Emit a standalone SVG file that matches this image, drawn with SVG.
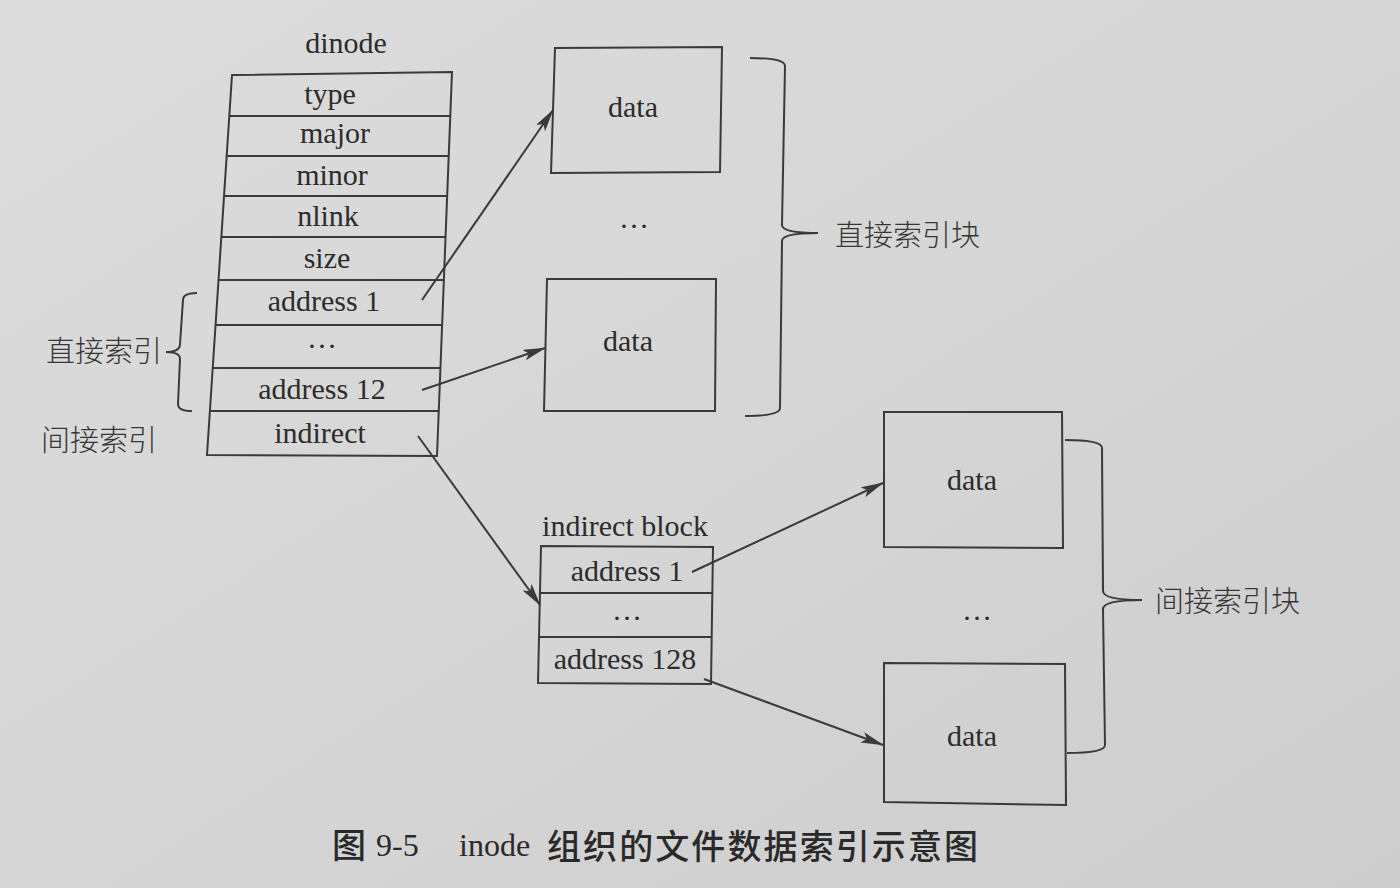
<svg xmlns="http://www.w3.org/2000/svg" width="1400" height="888" viewBox="0 0 1400 888">
  <defs>
    <linearGradient id="bg" x1="0" y1="0" x2="1" y2="1">
      <stop offset="0" stop-color="#dcdcdc"/>
      <stop offset="0.5" stop-color="#d6d6d6"/>
      <stop offset="1" stop-color="#cdcdcd"/>
    </linearGradient>
    <marker id="arr" markerUnits="userSpaceOnUse" markerWidth="24" markerHeight="12" refX="22" refY="5.5" orient="auto">
      <path d="M0,0 L23,5.5 L0,11 L5,5.5 z" fill="#3a3a3a"/>
    </marker>
  </defs>
  <style>
    .box { fill: none; stroke: #3a3a3a; stroke-width: 2; }
    .ln { stroke: #3a3a3a; stroke-width: 2; fill: none; }
    .t { font-family: "Liberation Serif", "Times New Roman", serif; font-size: 30px; fill: #2c2c2c; text-anchor: middle; }
    .cn { font-family: "Noto Sans CJK SC", sans-serif; font-size: 29px; fill: #363636; font-weight: 300; }
    .cap { font-family: "Liberation Serif", serif; font-size: 32px; fill: #2a2a2a; }
    .capcn { font-family: "Noto Sans CJK SC", sans-serif; font-size: 34px; fill: #2a2a2a; font-weight: 500; }
    .arrow { stroke: #3a3a3a; stroke-width: 2; fill: none; marker-end: url(#arr); }
  </style>
  <rect x="0" y="0" width="1400" height="888" fill="url(#bg)"/>

  <g id="dinode">
    <text class="t" x="346" y="53">dinode</text>
    <polygon class="box" points="232,75 452,72 437,456 207,455"/>
    <line class="ln" x1="229.3" y1="116" x2="450.3" y2="116"/>
    <line class="ln" x1="226.7" y1="156" x2="448.7" y2="156"/>
    <line class="ln" x1="224" y1="196" x2="447.2" y2="196"/>
    <line class="ln" x1="221.3" y1="237" x2="445.6" y2="237"/>
    <line class="ln" x1="218.5" y1="280" x2="443.9" y2="280"/>
    <line class="ln" x1="215.5" y1="325" x2="442.1" y2="325"/>
    <line class="ln" x1="212.7" y1="368" x2="440.4" y2="368"/>
    <line class="ln" x1="209.9" y1="411" x2="438.8" y2="411"/>
    <text class="t" x="330" y="104">type</text>
    <text class="t" x="335" y="143">major</text>
    <text class="t" x="332" y="185">minor</text>
    <text class="t" x="328" y="226">nlink</text>
    <text class="t" x="327" y="268">size</text>
    <text class="t" x="324" y="311">address 1</text>
    <text class="t" x="322" y="348">…</text>
    <text class="t" x="322" y="399">address 12</text>
    <text class="t" x="320" y="443">indirect</text>
  </g>

  <g id="direct-label">
    <path class="ln" d="M197,293 Q183,293 183,300 L180,344 Q180,352 166,352 Q180,352 180,359 L178,404 Q178,411 192,411"/>
    <text class="cn" x="46" y="362" font-size="27">直接索引</text>
    <text class="cn" x="41" y="451" font-size="27">间接索引</text>
  </g>

  <g id="data1">
    <polygon class="box" points="555,48 722,47 720,172 551,173"/>
    <text class="t" x="633" y="117">data</text>
  </g>
  <text class="t" x="634" y="228">…</text>
  <g id="data2">
    <polygon class="box" points="547,279 716,279 715,411 544,411"/>
    <text class="t" x="628" y="351">data</text>
  </g>

  <g id="direct-blocks-label">
    <path class="ln" d="M750,58 Q785,58 785,66 L782,225 Q782,233 818,233 Q782,233 782,241 L780,408 Q780,416 745,416"/>
    <text class="cn" x="835" y="246" font-size="30">直接索引块</text>
  </g>

  <g id="indirect-block">
    <text class="t" x="625" y="536">indirect block</text>
    <polygon class="box" points="541,546 713,547 711,684 538,683"/>
    <line class="ln" x1="540" y1="593" x2="712.5" y2="593"/>
    <line class="ln" x1="539.5" y1="637" x2="712" y2="637"/>
    <text class="t" x="627" y="581">address 1</text>
    <text class="t" x="627" y="620">…</text>
    <text class="t" x="625" y="669">address 128</text>
  </g>

  <g id="data3">
    <polygon class="box" points="884,412 1062,412 1063,548 884,547"/>
    <text class="t" x="972" y="490">data</text>
  </g>
  <text class="t" x="977" y="620">…</text>
  <g id="data4">
    <polygon class="box" points="884,663 1065,664 1066,805 884,802"/>
    <text class="t" x="972" y="746">data</text>
  </g>

  <g id="indirect-blocks-label">
    <path class="ln" d="M1065,440 Q1102,440 1102,448 L1103,591 Q1103,600 1142,600 Q1103,600 1103,609 L1105,745 Q1105,753 1067,753"/>
    <text class="cn" x="1155" y="612" font-size="30">间接索引块</text>
  </g>

  <g id="connectors">
    <line class="arrow" x1="422" y1="300" x2="553" y2="110"/>
    <line class="arrow" x1="422" y1="390" x2="545" y2="348"/>
    <line class="arrow" x1="418" y1="436" x2="540" y2="605"/>
    <line class="arrow" x1="692" y1="572" x2="883" y2="483"/>
    <line class="arrow" x1="704" y1="679" x2="883" y2="745"/>
  </g>

  <g id="caption">
    <text class="capcn" x="332" y="858" font-size="31" font-weight="400">图</text>
    <text class="cap" x="376" y="856">9-5</text>
    <text class="cap" x="459" y="856">inode</text>
    <text class="capcn" x="547" y="859" textLength="431" lengthAdjust="spacing">组织的文件数据索引示意图</text>
  </g>
</svg>
